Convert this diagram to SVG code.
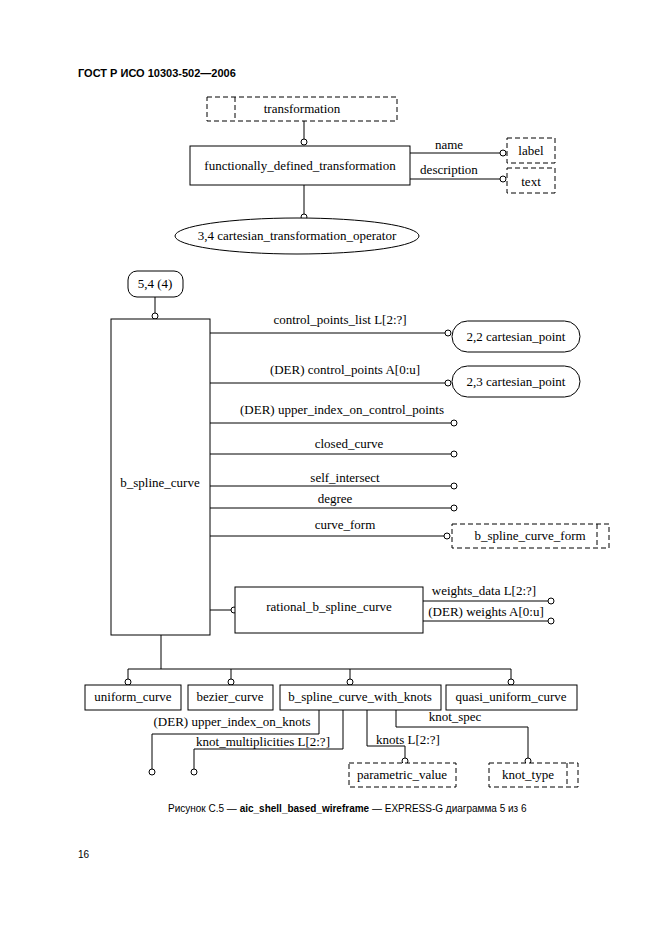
<svg xmlns="http://www.w3.org/2000/svg" width="661" height="936" viewBox="0 0 661 936">
<style>
.bg{fill:#fff}
.box{fill:#fff;stroke:#000;stroke-width:1}
.dbox{fill:#fff;stroke:#000;stroke-width:1;stroke-dasharray:5,3}
.ln{fill:none;stroke:#000;stroke-width:1}
.dl{fill:none;stroke:#000;stroke-width:1;stroke-dasharray:5,3}
.c{fill:#fff;stroke:#000;stroke-width:1}
.t{font-family:"Liberation Serif","Times New Roman",serif;font-size:13px;fill:#000}
.m{text-anchor:middle}
.h{font-family:"Liberation Sans",Arial,sans-serif;font-size:11px;font-weight:bold;fill:#000}
.cap{font-family:"Liberation Sans",Arial,sans-serif;font-size:10px;fill:#000}
</style>
<rect class="bg" x="0" y="0" width="661" height="936"/>
<text class="h" x="78" y="77">ГОСТ Р ИСО 10303-502—2006</text>

<g id="connectors">
  <path class="ln" d="M304,121 V139"/>
  <path class="ln" d="M410,153 H500"/>
  <path class="ln" d="M410,179 H500"/>
  <path class="ln" d="M304,185 V214"/>
  <path class="ln" d="M155,297 V313"/>
  <path class="ln" d="M210,333 H445"/>
  <path class="ln" d="M210,383 H445"/>
  <path class="ln" d="M210,423 H451"/>
  <path class="ln" d="M210,454 H451"/>
  <path class="ln" d="M210,486 H451"/>
  <path class="ln" d="M210,508 H451"/>
  <path class="ln" d="M210,536 H444"/>
  <path class="ln" d="M210,610 H231"/>
  <path class="ln" d="M423,601 H548"/>
  <path class="ln" d="M423,621 H548"/>
  <path class="ln" d="M161,635 V669 M128,669 H511 M128,669 V679 M231,669 V679 M350,669 V679 M511,669 V679"/>
  <path class="ln" d="M319,710 V734 H152 V769"/>
  <path class="ln" d="M343,710 V749 H194 V769"/>
  <path class="ln" d="M367,710 V746 H405 V758"/>
  <path class="ln" d="M396,710 V727 H528 V758"/>
  <circle class="c" cx="304" cy="142" r="3"/>
  <circle class="c" cx="503" cy="153" r="3"/>
  <circle class="c" cx="503" cy="179" r="3"/>
  <circle class="c" cx="304" cy="217" r="3"/>
  <circle class="c" cx="155" cy="316" r="3"/>
  <circle class="c" cx="448" cy="333" r="3"/>
  <circle class="c" cx="448" cy="383" r="3"/>
  <circle class="c" cx="454" cy="423" r="3"/>
  <circle class="c" cx="454" cy="454" r="3"/>
  <circle class="c" cx="454" cy="486" r="3"/>
  <circle class="c" cx="454" cy="508" r="3"/>
  <circle class="c" cx="447" cy="536" r="3"/>
  <circle class="c" cx="234" cy="610" r="3"/>
  <circle class="c" cx="551" cy="601" r="3"/>
  <circle class="c" cx="551" cy="621" r="3"/>
  <circle class="c" cx="128" cy="682" r="3"/>
  <circle class="c" cx="231" cy="682" r="3"/>
  <circle class="c" cx="350" cy="682" r="3"/>
  <circle class="c" cx="511" cy="682" r="3"/>
  <circle class="c" cx="152" cy="772" r="3"/>
  <circle class="c" cx="194" cy="772" r="3"/>
  <circle class="c" cx="405" cy="761" r="3"/>
  <circle class="c" cx="528" cy="761" r="3"/>
  <text class="t m" x="449" y="149">name</text>
  <text class="t m" x="449" y="174">description</text>
  <text class="t m" x="340" y="324">control_points_list L[2:?]</text>
  <text class="t m" x="345" y="374">(DER) control_points A[0:u]</text>
  <text class="t m" x="342" y="414">(DER) upper_index_on_control_points</text>
  <text class="t m" x="349" y="448">closed_curve</text>
  <text class="t m" x="345" y="482">self_intersect</text>
  <text class="t m" x="335" y="503">degree</text>
  <text class="t m" x="345" y="529">curve_form</text>
  <text class="t m" x="484" y="595">weights_data L[2:?]</text>
  <text class="t m" x="486" y="616">(DER) weights A[0:u]</text>
  <text class="t m" x="232" y="726">(DER) upper_index_on_knots</text>
  <text class="t m" x="263" y="746">knot_multiplicities L[2:?]</text>
  <text class="t m" x="408" y="744">knots L[2:?]</text>
  <text class="t m" x="455" y="721">knot_spec</text>
</g>

<g id="transformation">
  <rect class="dbox" x="207" y="97" width="190" height="24"/>
  <path class="dl" d="M235,97 V121"/>
  <text class="t m" x="302" y="113">transformation</text>
</g>
<g id="functionally_defined_transformation">
  <rect class="box" x="190" y="146" width="220" height="39"/>
  <text class="t m" x="300" y="170">functionally_defined_transformation</text>
</g>
<g id="label">
  <rect class="dbox" x="507" y="138" width="48" height="25"/>
  <text class="t m" x="531" y="155">label</text>
</g>
<g id="text">
  <rect class="dbox" x="507" y="168" width="48" height="25"/>
  <text class="t m" x="531" y="186">text</text>
</g>
<g id="cartesian_transformation_operator">
  <ellipse class="box" cx="297" cy="236" rx="122" ry="18"/>
  <text class="t m" x="297" y="240">3,4 cartesian_transformation_operator</text>
</g>
<g id="page_ref">
  <rect class="box" x="128" y="271" width="55" height="26" rx="9" ry="9"/>
  <text class="t m" x="155" y="288">5,4 (4)</text>
</g>
<g id="b_spline_curve">
  <rect class="box" x="111" y="319" width="99" height="316"/>
  <text class="t m" x="160" y="487">b_spline_curve</text>
</g>
<g id="cartesian_point_22">
  <rect class="box" x="452" y="321" width="128" height="31" rx="15.5" ry="15.5"/>
  <text class="t m" x="516" y="341">2,2 cartesian_point</text>
</g>
<g id="cartesian_point_23">
  <rect class="box" x="452" y="366" width="128" height="31" rx="15.5" ry="15.5"/>
  <text class="t m" x="516" y="386">2,3 cartesian_point</text>
</g>
<g id="b_spline_curve_form">
  <rect class="dbox" x="452" y="524" width="157" height="24"/>
  <path class="dl" d="M597,524 V548"/>
  <text class="t m" x="530" y="540">b_spline_curve_form</text>
</g>
<g id="rational_b_spline_curve">
  <rect class="box" x="235" y="587" width="188" height="46"/>
  <text class="t m" x="329" y="611">rational_b_spline_curve</text>
</g>
<g id="uniform_curve">
  <rect class="box" x="85" y="685" width="96" height="25"/>
  <text class="t m" x="133" y="701">uniform_curve</text>
</g>
<g id="bezier_curve">
  <rect class="box" x="188" y="685" width="85" height="25"/>
  <text class="t m" x="230" y="701">bezier_curve</text>
</g>
<g id="b_spline_curve_with_knots">
  <rect class="box" x="280" y="685" width="161" height="25"/>
  <text class="t m" x="360" y="701">b_spline_curve_with_knots</text>
</g>
<g id="quasi_uniform_curve">
  <rect class="box" x="446" y="685" width="131" height="25"/>
  <text class="t m" x="511" y="701">quasi_uniform_curve</text>
</g>
<g id="parametric_value">
  <rect class="dbox" x="349" y="763" width="107" height="24"/>
  <text class="t m" x="402" y="779">parametric_value</text>
</g>
<g id="knot_type">
  <rect class="dbox" x="489" y="763" width="89" height="24"/>
  <path class="dl" d="M567,763 V787"/>
  <text class="t m" x="528" y="779">knot_type</text>
</g>

<text class="cap" x="168" y="812">Рисунок С.5 — <tspan font-weight="bold">aic_shell_based_wireframe</tspan> — EXPRESS-G диаграмма 5 из 6</text>
<text class="cap" x="78" y="858">16</text>
</svg>
